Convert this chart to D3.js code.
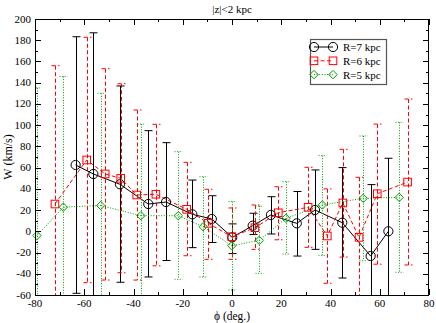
<!DOCTYPE html>
<html><head><meta charset="utf-8">
<script src="https://cdn.jsdelivr.net/npm/d3@7"></script>
<style>
body{margin:0;background:#fff;}
text{font-family:"Liberation Serif","Times New Roman",serif;}
</style></head>
<body><svg id="c" width="436" height="323"></svg>
<script>
const title = "|z|<2 kpc";
const xLabel = "ϕ (deg.)";
const yLabel = "W (km/s)";
const xTicks = [-80,-60,-40,-20,0,20,40,60,80];
const yTicks = [-60,-40,-20,0,20,40,60,80,100,120,140,160,180,200];

// R=7 kpc
const r7x  = [-63.5,-56.3,-45.5,-34.0,-26.8,-16.1,-8.2,0.1,8.4,15.8,26.3,33.7,44.8,56.3,63.5];
const r7y  = [62.5,54.0,44.3,25.7,27.6,16.0,11.6,-5.7,5.3,15.4,7.5,20.1,8.1,-23.3,0.0];
const r7hi = [183.3,187,136.9,94.8,83.5,48.3,33.5,7,17,32.6,37.5,57.8,60,44,68.8];
const r7lo = [-58.4,-85,-48,-43,-27.5,-15.4,-10.5,-21,-3,-2.5,-23.3,-17,-44,-85,-85];
// R=6 kpc
const r6x  = [-71.9,-59.0,-51.5,-45.2,-38.7,-30.9,-18.4,-9.6,-0.1,9.3,18.8,30.9,38.7,45.0,51.6,59.0,71.3];
const r6y  = [25.7,67.2,54.0,49.9,34.2,34.9,20.7,7.5,-5.1,3.4,17.5,22.6,-4.4,26.7,-5.7,35.4,46.4];
const r6hi = [156,182.8,153.2,139,114.3,100.8,65,39.6,22,24.8,42,60.3,40,77.2,50.9,101,124.6];
const r6lo = [-85,-48.4,-45.9,-39,-45.9,-32.5,-23,-26.4,-26.4,-17,-8,-15.1,-49,-24.3,-85,-31,-31.7];
// R=5 kpc
const r5x  = [-79.2,-68.5,-53.3,-37.0,-21.8,-11.7,-0.1,11.1,21.9,36.7,53.3,67.9];
const r5y  = [-4,22.7,24.3,14.7,14.7,4.3,-13.6,-8.5,12.2,24.8,31.1,32.0];
const r5hi = [135.1,145.8,130,101,75,51.4,28,23.8,46.7,71.3,89.8,102.7];
const r5lo = [-85,-85,-85,-85,-45.2,-43,-55.3,-39.6,-21.4,-22.6,-27.7,-38.6];

const names = ["R=7 kpc","R=6 kpc","R=5 kpc"];

const W=436,H=323;
const L=35,R=429,T=19,B=295;
const x = d3.scaleLinear().domain([-80,80]).range([L,R]);
const y = d3.scaleLinear().domain([-60,200]).range([B,T]);
const svg = d3.select("#c");

svg.append("defs").append("clipPath").attr("id","pc")
  .append("rect").attr("x",L).attr("y",T).attr("width",R-L).attr("height",B-T);

const green = "#00a000";
const series = [
  {x:r7x,y:r7y,hi:r7hi,lo:r7lo,color:"#000",dash:null,sym:"circle"},
  {x:r6x,y:r6y,hi:r6hi,lo:r6lo,color:"#ff0000",dash:"4,2.5",sym:"square"},
  {x:r5x,y:r5y,hi:r5hi,lo:r5lo,color:green,dash:"1,1.6",sym:"diamond"}
];

function drawSym(g, type, cx, cy, color){
  if(type==="circle") g.append("circle").attr("cx",cx).attr("cy",cy).attr("r",4.6)
     .attr("fill","none").attr("stroke",color).attr("stroke-width",1);
  else if(type==="square") g.append("rect").attr("x",cx-3.8).attr("y",cy-3.8).attr("width",7.6).attr("height",7.6)
     .attr("fill","none").attr("stroke",color).attr("stroke-width",1);
  else g.append("path").attr("d",`M${cx},${cy-4.2}L${cx+4.2},${cy}L${cx},${cy+4.2}L${cx-4.2},${cy}Z`)
     .attr("fill","none").attr("stroke",color).attr("stroke-width",1);
}

const plot = svg.append("g").attr("clip-path","url(#pc)");
const symLayer = svg.append("g");
series.forEach(s=>{
  const g = plot.append("g");
  const idx = d3.range(s.x.length);
  g.append("path").datum(idx)
    .attr("d", d3.line().x(i=>x(s.x[i])).y(i=>y(s.y[i])))
    .attr("fill","none").attr("stroke",s.color).attr("stroke-width",1)
    .attr("stroke-dasharray",s.dash);
  idx.forEach(i=>{
    const cx = Math.round(x(s.x[i]))+0.5;
    g.append("line").attr("x1",cx).attr("x2",cx).attr("y1",y(s.hi[i])).attr("y2",y(s.lo[i]))
      .attr("stroke",s.color).attr("stroke-width",1).attr("stroke-dasharray",s.dash);
    [s.hi[i],s.lo[i]].forEach(v=>{
      g.append("line").attr("x1",cx-4).attr("x2",cx+4).attr("y1",y(v)).attr("y2",y(v))
        .attr("stroke",s.color).attr("stroke-width",1).attr("stroke-dasharray",s.dash);
    });
  });
  const sg = symLayer.append("g");
  idx.forEach(i=>drawSym(sg, s.sym, x(s.x[i]), y(s.y[i]), s.color));
});

// axes with inward ticks
const minorX = d3.range(-80,81,10), minorY = d3.range(-60,201,10);
const ax = svg.append("g").attr("stroke","#000").attr("stroke-width",1);
minorX.forEach(v=>{
  const px = Math.round(x(v))+0.5, len = (v%20===0)?6:3;
  ax.append("line").attr("x1",px).attr("x2",px).attr("y1",B).attr("y2",B-len);
  ax.append("line").attr("x1",px).attr("x2",px).attr("y1",T).attr("y2",T+len);
});
minorY.forEach(v=>{
  const py = Math.round(y(v))+0.5, len = (v%20===0)?6:3;
  ax.append("line").attr("x1",L).attr("x2",L+len).attr("y1",py).attr("y2",py);
  ax.append("line").attr("x1",R).attr("x2",R-len).attr("y1",py).attr("y2",py);
});
svg.append("rect").attr("x",L+0.5).attr("y",T+0.5).attr("width",R-L-1).attr("height",B-T)
  .attr("fill","none").attr("stroke","#000").attr("stroke-width",1);

// tick labels
svg.append("g").selectAll("text").data(xTicks).join("text")
  .attr("x",d=>x(d)).attr("y",B+12).attr("text-anchor","middle")
  .attr("font-size",11).text(d=>d<0?"-"+Math.abs(d):d);
svg.append("g").selectAll("text").data(yTicks).join("text")
  .attr("x",L-4).attr("y",d=>y(d)+3.5).attr("text-anchor","end")
  .attr("font-size",11).text(d=>d<0?"-"+Math.abs(d):d);

svg.append("text").attr("x",(L+R)/2).attr("y",13).attr("text-anchor","middle").attr("font-size",11).text(title);
svg.append("text").attr("x",(L+R)/2).attr("y",320).attr("text-anchor","middle").attr("font-size",11.5).text(xLabel);
svg.append("text").attr("transform",`translate(12,${(T+B)/2}) rotate(-90)`).attr("text-anchor","middle").attr("font-size",12).text(yLabel);

// legend
const lg = svg.append("g");
lg.append("rect").attr("x",310.5).attr("y",39.5).attr("width",76).attr("height",45)
  .attr("fill","#fff").attr("stroke","#555").attr("stroke-width",1.2);
series.forEach((s,i)=>{
  const ly = 47 + i*13.8;
  lg.append("line").attr("x1",314).attr("x2",333).attr("y1",ly).attr("y2",ly)
    .attr("stroke",s.color).attr("stroke-width",1).attr("stroke-dasharray",s.dash);
  drawSym(lg, s.sym, 314, ly, s.color);
  drawSym(lg, s.sym, 333, ly, s.color);
  lg.append("text").attr("x",343).attr("y",ly+4).attr("font-size",11).text(names[i]);
});
</script></body></html>
